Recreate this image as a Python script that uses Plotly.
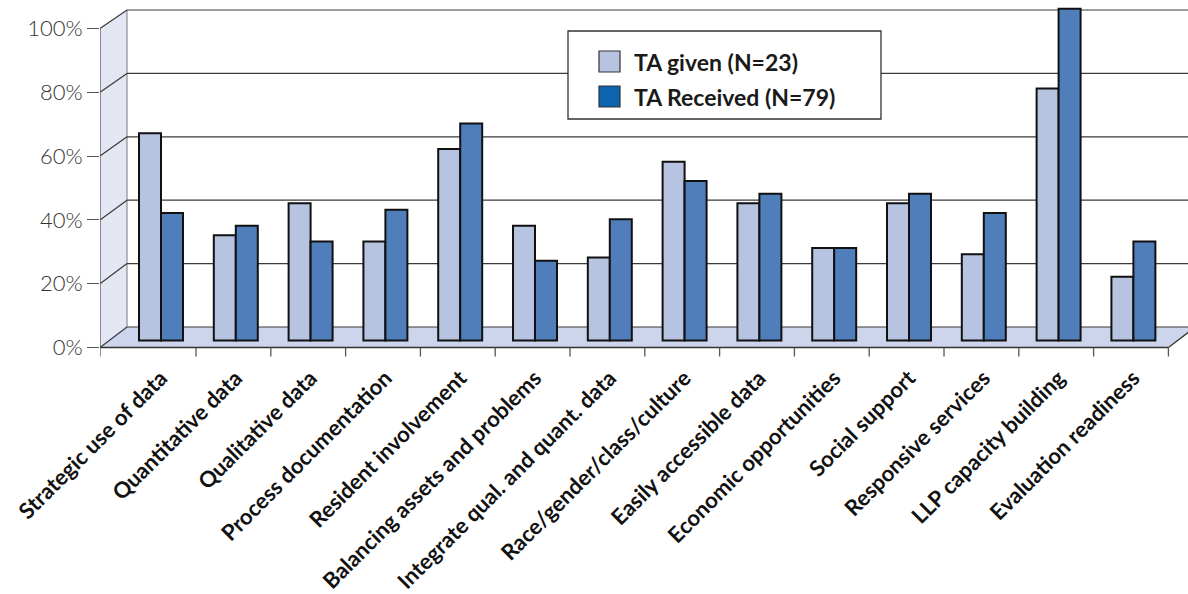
import plotly.graph_objects as go

# ---- data -------------------------------------------------------------
categories = [
    "Strategic use of data", "Quantitative data", "Qualitative data",
    "Process documentation", "Resident involvement",
    "Balancing assets and problems", "Integrate qual. and quant. data",
    "Race/gender/class/culture", "Easily accessible data",
    "Economic opportunities", "Social support", "Responsive services",
    "LLP capacity building", "Evaluation readiness",
]
ta_given = [65, 33, 43, 31, 60, 36, 26, 56, 43, 29, 43, 27, 79, 20]
ta_received = [40, 36, 31, 41, 68, 25, 38, 50, 46, 29, 46, 40, 104, 31]
series_names = ["TA given (N=23)", "TA Received (N=79)"]
tick_values = [0, 20, 40, 60, 80, 100]
tick_labels = ["0%", "20%", "40%", "60%", "80%", "100%"]

# ---- styling ----------------------------------------------------------
LIGHT = "#B6C3E1"
DARK = "#4F7EBB"
LEGEND_DARK = "#0E63AF"
FLOOR = "#CDD5EC"
SIDE_WALL = "#E3E7F4"
GRID = "#3A3A3A"
LABEL_FONT = "Lato"

W, H = 1188, 594
M_L, M_R, M_T, M_B = 100, 0, 2, 234
PLOT_W = W - M_L - M_R
PLOT_H = H - M_T - M_B
PX_PER_CAT = 74.8
PX_PER_PCT = 3.19

# category axis range (first bar pair centred 61 px right of the plot edge)
X_LEFT = -61 / PX_PER_CAT
X_RIGHT = X_LEFT + PLOT_W / PX_PER_CAT
# bar axis: value 0 sits 19.5 px above the plot bottom
Y0 = -19.5 / PX_PER_PCT
Y_RANGE = [Y0, Y0 + PLOT_H / PX_PER_PCT]
# front (labelled) axis: 0 % sits 12.5 px above the plot bottom
F0 = -12.5 / PX_PER_PCT
Y2_RANGE = [F0, F0 + PLOT_H / PX_PER_PCT]

# pseudo-3D box: depth offset of the back wall relative to the front edge
DEPTH_X = 27 / PX_PER_CAT
FRONT_OFF = -7 / PX_PER_PCT          # front plane, in bar-axis units
BACK_OFF = 13.5 / PX_PER_PCT         # back wall baseline, in bar-axis units
BACK_SCALE = 317 / 319
BOUND_SHIFT = 0.468                  # front tick marks between categories
X_FRONT_END = len(categories) - 1 + BOUND_SHIFT


def front(v):
    return FRONT_OFF + v


def back(v):
    return BACK_OFF + v * BACK_SCALE


def to_paper(px, py):
    return (px - M_L) / PLOT_W, (H - M_B - py) / PLOT_H


shapes = []
xb = X_LEFT + DEPTH_X

# side wall
shapes.append(dict(
    type="path", xref="x", yref="y", layer="below",
    path=f"M{X_LEFT},{front(0)} L{X_LEFT},{front(100)} L{xb},{back(100)} L{xb},{back(0)} Z",
    fillcolor=SIDE_WALL, line=dict(width=0)))
# floor
shapes.append(dict(
    type="path", xref="x", yref="y", layer="below",
    path=(f"M{X_LEFT},{front(0)} L{X_FRONT_END},{front(0)} "
          f"L{X_FRONT_END + DEPTH_X},{back(0)} L{xb},{back(0)} Z"),
    fillcolor=FLOOR, line=dict(width=0)))
# back wall left edge
shapes.append(dict(type="line", xref="x", yref="y", layer="below",
                   x0=xb, x1=xb, y0=back(0), y1=back(100),
                   line=dict(color="#7A7A7A", width=1)))
# gridlines on back wall and side wall
for v in tick_values:
    shapes.append(dict(type="line", xref="x", yref="y", layer="below",
                       x0=xb, x1=X_RIGHT + 1, y0=back(v), y1=back(v),
                       line=dict(color=GRID, width=1.2)))
    shapes.append(dict(type="line", xref="x", yref="y", layer="below",
                       x0=X_LEFT, x1=xb, y0=front(v), y1=back(v),
                       line=dict(color=GRID, width=1.2)))
# front value axis line
shapes.append(dict(type="line", xref="x", yref="y", layer="below",
                   x0=X_LEFT, x1=X_LEFT, y0=front(0), y1=front(100),
                   line=dict(color="#555555", width=1.3)))
# front edge of the floor and right floor edge
shapes.append(dict(type="line", xref="x", yref="y", layer="above",
                   x0=X_LEFT, x1=X_FRONT_END, y0=front(0), y1=front(0),
                   line=dict(color="#333333", width=1.3)))
shapes.append(dict(type="line", xref="x", yref="y", layer="above",
                   x0=X_FRONT_END, x1=X_FRONT_END + DEPTH_X, y0=front(0), y1=back(0),
                   line=dict(color="#333333", width=1.2)))
# category tick marks on the front edge
tick_len = 9 / PX_PER_PCT
tick_xs = [X_LEFT] + [k + BOUND_SHIFT for k in range(len(categories))]
for tx in tick_xs:
    shapes.append(dict(type="line", xref="x", yref="y", layer="above",
                       x0=tx, x1=tx, y0=front(0), y1=front(0) - tick_len,
                       line=dict(color="#555555", width=1.3)))

# legend box, swatches and labels
annotations = []
bx0, by0 = to_paper(568, 31)
bx1, by1 = to_paper(881, 119)
shapes.append(dict(type="rect", xref="paper", yref="paper", layer="above",
                   x0=bx0, x1=bx1, y0=by1, y1=by0,
                   fillcolor="white", line=dict(color="#333333", width=1.3)))
for name, color, top in zip(series_names, [LIGHT, LEGEND_DARK], [51, 86]):
    sx0, sy0 = to_paper(599, top)
    sx1, sy1 = to_paper(620, top + 21)
    shapes.append(dict(type="rect", xref="paper", yref="paper", layer="above",
                       x0=sx0, x1=sx1, y0=sy1, y1=sy0, fillcolor=color,
                       line=dict(color="#333333", width=1.2)))
    tx, ty = to_paper(632, top + 10.5)
    annotations.append(dict(
        xref="paper", yref="paper", x=tx, y=ty, xanchor="left", yanchor="middle",
        text=f"<b>{name}</b>", showarrow=False,
        font=dict(family=LABEL_FONT, size=23, color="#1A1A1A")))

fig = go.Figure()
fig.add_trace(go.Bar(name=series_names[0], x=categories, y=ta_given,
                     marker=dict(color=LIGHT, line=dict(color="#111111", width=2))))
fig.add_trace(go.Bar(name=series_names[1], x=categories, y=ta_received,
                     marker=dict(color=DARK, line=dict(color="#111111", width=2))))
# invisible trace that carries the labelled front axis
fig.add_trace(go.Scatter(x=[categories[0]], y=[0], yaxis="y2", mode="markers",
                         marker=dict(opacity=0), hoverinfo="skip", showlegend=False))

fig.update_layout(
    width=W, height=H,
    margin=dict(l=M_L, r=M_R, t=M_T, b=M_B, autoexpand=False),
    paper_bgcolor="white", plot_bgcolor="white",
    barmode="group", bargap=0.412, bargroupgap=0,
    showlegend=False,
    shapes=shapes, annotations=annotations,
    xaxis=dict(
        type="category", range=[X_LEFT, X_RIGHT], showgrid=False, zeroline=False,
        showline=False, ticks="", tickangle=-45, automargin=False,
        tickfont=dict(family=LABEL_FONT, size=22, color="#111111", weight="bold"),
    ),
    yaxis=dict(range=Y_RANGE, visible=False, fixedrange=True, automargin=False),
    yaxis2=dict(
        range=Y2_RANGE, overlaying="y", side="left", anchor="x", automargin=False,
        tickvals=tick_values, ticktext=tick_labels,
        showgrid=False, zeroline=False, showline=False,
        ticks="outside", ticklen=12, tickwidth=1.3, tickcolor="#555555",
        tickfont=dict(family=LABEL_FONT, size=22, color="#333333", weight=300),
    ),
)

fig.write_html("out.html")
